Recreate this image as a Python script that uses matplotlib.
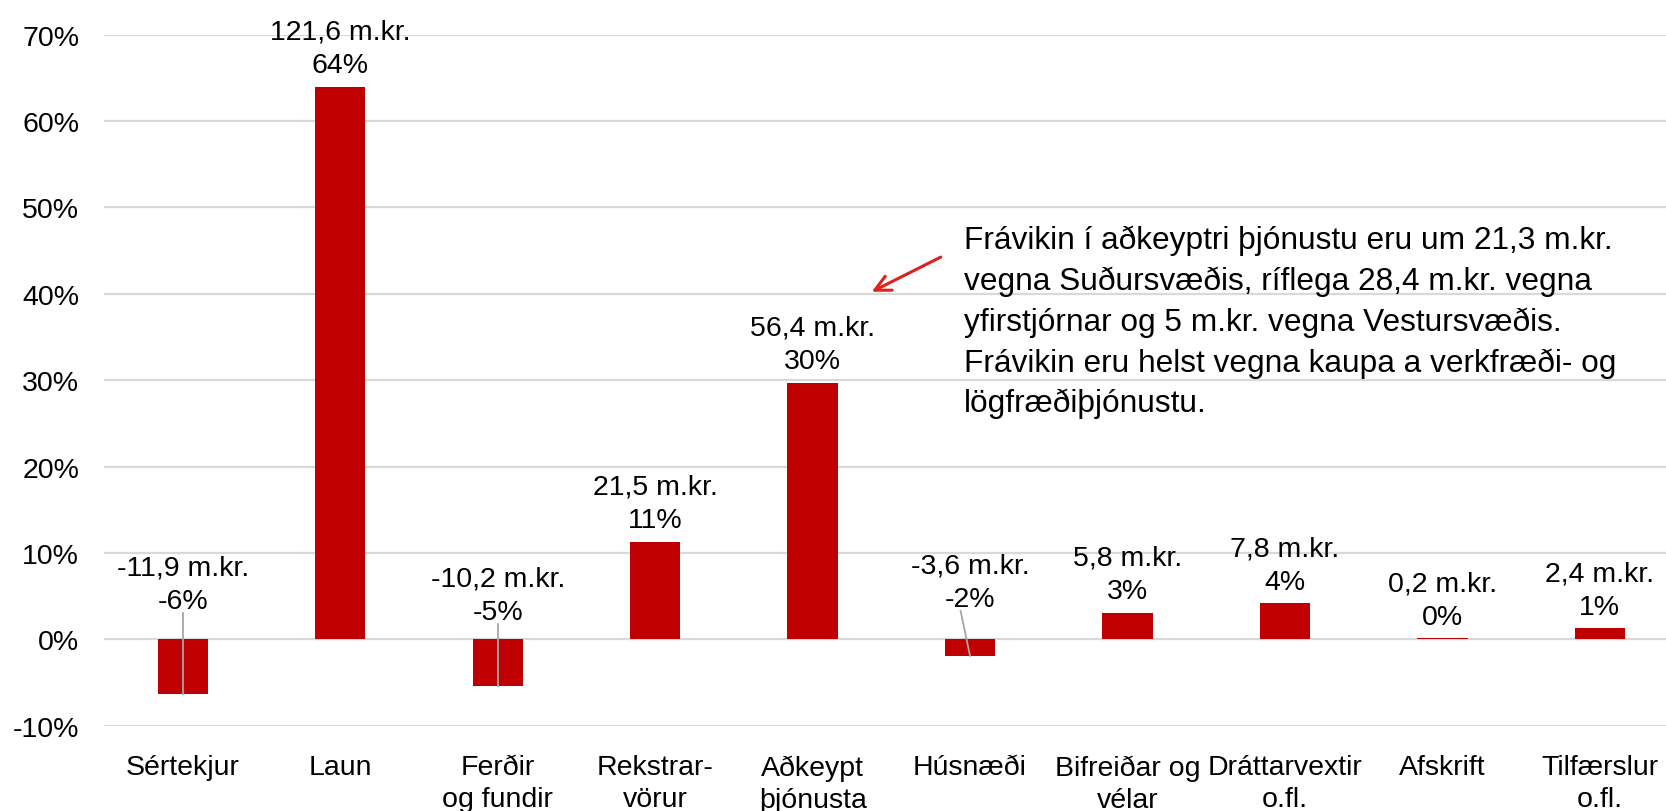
import matplotlib.pyplot as plt
import numpy as np

categories = ["Sértekjur", "Laun", "Ferðir\nog fundir", "Rekstrar-\nvörur", "Aðkeypt\nþjónusta",
              "Húsnæði", "Bifreiðar og\nvélar", "Dráttarvextir\no.fl.", "Afskrift", "Tilfærslur\no.fl."]
pct = [-6.3, 64.0, -5.4, 11.3, 29.7, -1.9, 3.1, 4.2, 0.1, 1.3]
mkr = ["-11,9", "121,6", "-10,2", "21,5", "56,4", "-3,6", "5,8", "7,8", "0,2", "2,4"]
pct_labels = ["-6%", "64%", "-5%", "11%", "30%", "-2%", "3%", "4%", "0%", "1%"]
yticks = [-10, 0, 10, 20, 30, 40, 50, 60, 70]

note = ("Frávikin í aðkeyptri þjónustu eru um 21,3 m.kr.\n"
        "vegna Suðursvæðis, ríflega 28,4 m.kr. vegna\n"
        "yfirstjórnar og 5 m.kr. vegna Vestursvæðis.\n"
        "Frávikin eru helst vegna kaupa a verkfræði- og\n"
        "lögfræðiþjónustu.")

plt.rcParams['font.family'] = ['Liberation Sans', 'DejaVu Sans']
red = "#C00000"
grid = "#D9D9D9"
fs = 20.5

fig = plt.figure(figsize=(16.66, 8.12), dpi=100)
ax = fig.add_axes([0.0625, 0.105, 0.945, 0.851])

x = np.arange(len(categories))
ax.bar(x, pct, width=0.32, color=red, zorder=3)

ax.set_xlim(-0.5, len(categories) - 0.5)
ax.set_ylim(-10, 70)
ax.set_yticks(yticks)
ax.set_yticklabels([f"{t}%" for t in yticks], fontsize=fs)
ax.yaxis.grid(True, color=grid, linewidth=1.6, zorder=0)
ax.set_axisbelow(True)
ax.set_xticks(x)
ax.set_xticklabels(categories, fontsize=fs, linespacing=1.3)
ax.tick_params(axis='x', length=0, pad=20.5)
ax.tick_params(axis='y', length=0, pad=18)
for s in ax.spines.values():
    s.set_visible(False)

# data labels; negative bars have labels lifted above zero with leader lines
neg_offset = {0: 18, 2: 10, 5: 19.5}
for i, v in enumerate(pct):
    txt = f"{mkr[i]} m.kr.\n{pct_labels[i]}"
    if v >= 0:
        ax.annotate(txt, (i, v), xytext=(0, 6), textcoords="offset points",
                    ha="center", va="bottom", fontsize=fs, linespacing=1.38)
    else:
        ax.annotate(txt, (i, 0), xytext=(0, neg_offset[i]), textcoords="offset points",
                    ha="center", va="bottom", fontsize=fs, linespacing=1.38, zorder=5)

ax.plot([0, 0], [3, pct[0]], color="#A6A6A6", lw=1.3, zorder=4)
ax.plot([2, 2], [1.8, pct[2]], color="#A6A6A6", lw=1.3, zorder=4)
ax.plot([4.94, 5.0], [3.3, pct[5]], color="#A6A6A6", lw=1.3, zorder=4)

ax.annotate("", xy=(4.36, 40.1), xytext=(4.83, 44.4),
            arrowprops=dict(arrowstyle="->", color="#E0201B", lw=2.2, mutation_scale=28))
ax.text(4.96, 48.0, note, ha="left", va="top", fontsize=22.8, linespacing=1.44)

fig.savefig("out.png", dpi=100)
